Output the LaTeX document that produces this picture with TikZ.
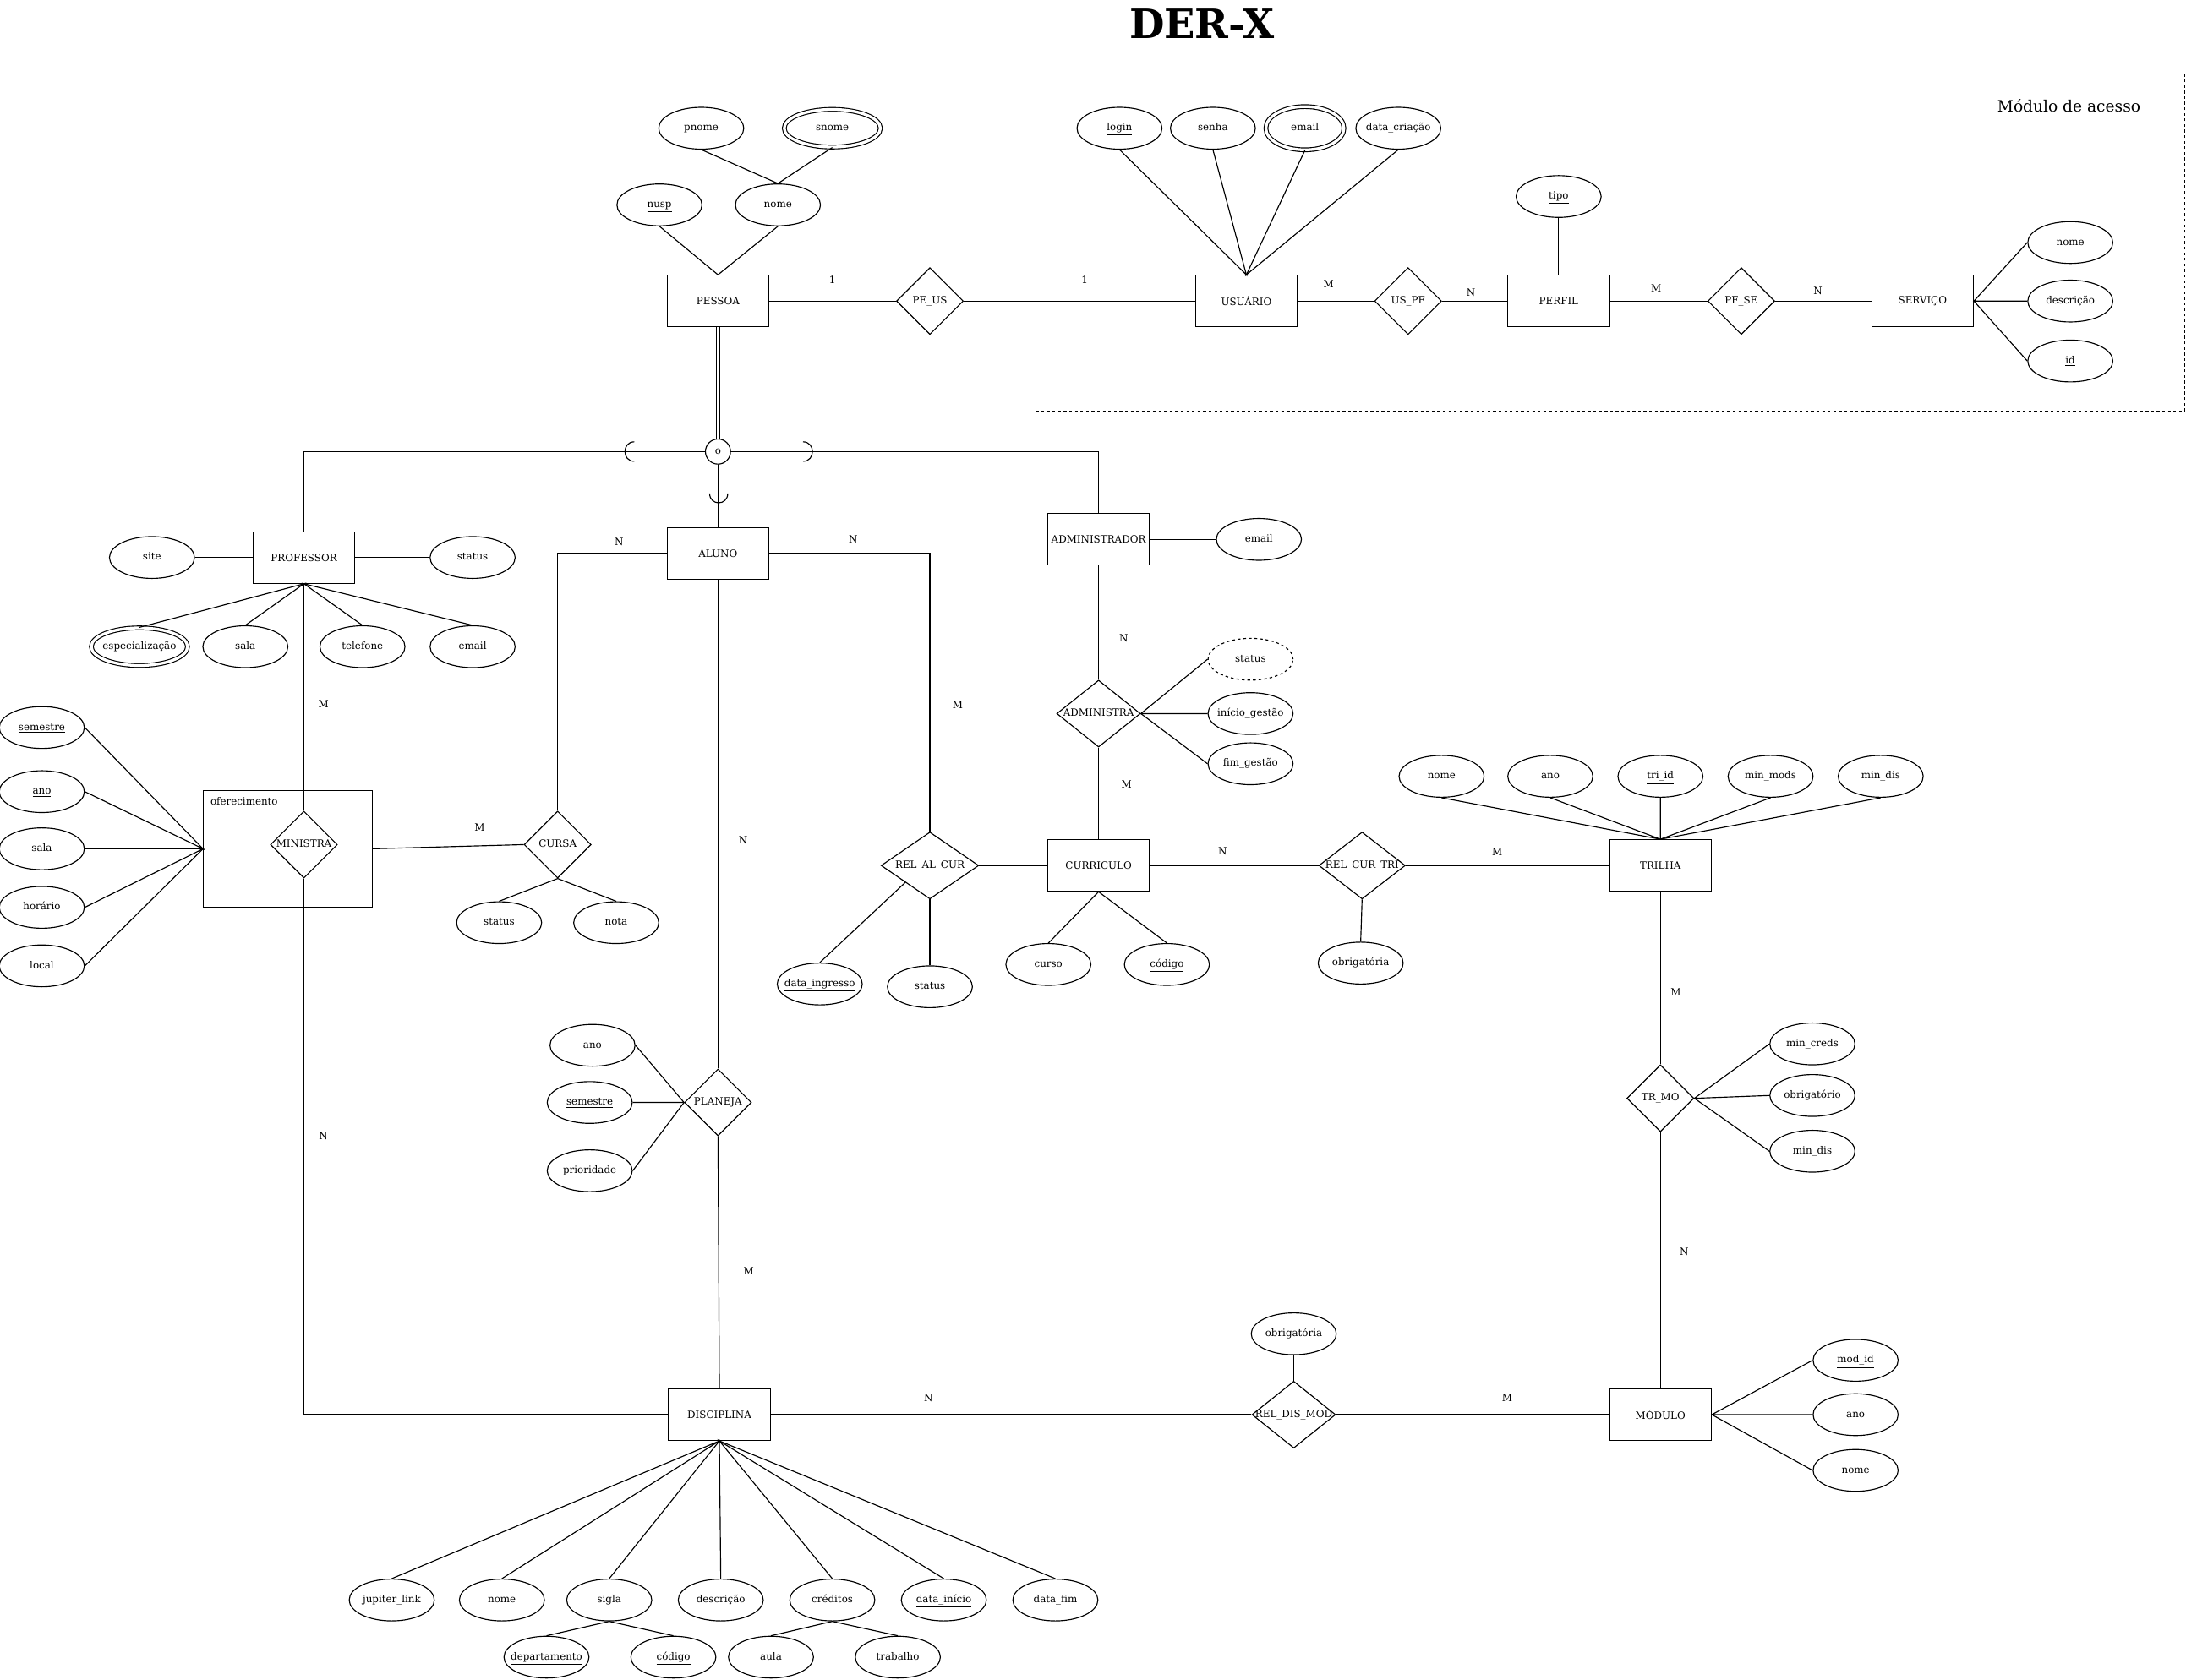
\documentclass[tikz,border=0pt]{standalone}
\usepackage{fontspec}
\setmainfont{DejaVu Serif}
\usetikzlibrary{shapes.geometric}
\tikzset{
  entidade/.style={draw, rectangle, minimum width=73, minimum height=37, inner sep=0},
  relac/.style={draw, diamond, minimum width=48, minimum height=48, inner sep=0, label=center:#1},
  atrib/.style={draw, ellipse, minimum width=61, minimum height=30, inner sep=0, label=center:#1},
  multi/.style={atrib=#1, double, double distance=2pt, minimum width=69, minimum height=27},
  derivado/.style={atrib=#1, dash pattern=on 2pt off 2pt},
  card/.style={inner sep=0},
  every label/.style={text height=5.4pt, text depth=1.6pt},
}
\begin{document}
\begin{tikzpicture}[x=1pt, y=-1pt, line width=0.7pt, font=\fontsize{7.2}{8.6}\selectfont]
\useasboundingbox (0,0) rectangle (1568,1205);

\node[font=\bfseries\fontsize{29}{29}\selectfont] (titulo) at (862,17) {DER-X};
\node[draw, dash pattern=on 2pt off 2pt, minimum width=824, minimum height=242, inner sep=0] (acesso) at (1155,174) {};
\node[font=\fontsize{11.3}{13}\selectfont] (acessotxt) at (1484,76) {Módulo de acesso};

% entidades
\node[entidade] (pessoa) at (515,216) {PESSOA};
\node[entidade] (usuario) at (894,216) {USUÁRIO};
\node[entidade] (perfil) at (1118,216) {PERFIL};
\node[entidade] (servico) at (1379,216) {SERVIÇO};
\node[entidade] (professor) at (218,400) {PROFESSOR};
\node[entidade] (aluno) at (515,397) {ALUNO};
\node[entidade] (administrador) at (788,387) {ADMINISTRADOR};
\node[entidade] (curriculo) at (788,621) {CURRICULO};
\node[entidade] (trilha) at (1191,621) {TRILHA};
\node[entidade] (disciplina) at (516,1015) {DISCIPLINA};
\node[entidade] (modulo) at (1191,1015) {MÓDULO};
\node[draw, minimum width=121, minimum height=84, inner sep=0,
      label={[anchor=north west, inner sep=5pt]north west:oferecimento}] (oferecimento) at (206.5,609) {};

% relacionamentos
\node[relac=PE\_US] (peus) at (667,216) {};
\node[relac=US\_PF] (uspf) at (1010,216) {};
\node[relac=PF\_SE] (pfse) at (1249,216) {};
\node[relac=MINISTRA] (ministra) at (218,606) {};
\node[relac=CURSA] (cursa) at (400,606) {};
\node[relac=ADMINISTRA, minimum width=60] (administra) at (788,512) {};
\node[relac=REL\_AL\_CUR, minimum width=70] (relalcur) at (667,621) {};
\node[relac=REL\_CUR\_TRI, minimum width=62] (relcurtri) at (977,621) {};
\node[relac=PLANEJA] (planeja) at (515,791) {};
\node[relac=TR\_MO] (trmo) at (1191,788) {};
\node[relac=REL\_DIS\_MOD, minimum width=60] (reldismod) at (928,1015) {};

% especializacao
\node[circle, draw, minimum size=18, inner sep=0] (uniao) at (515,324) {o};

% atributos
\node[atrib=\underline{nusp}] (pnusp) at (473,147) {};
\node[atrib=nome] (pnome) at (558,147) {};
\node[atrib=pnome] (ppnome) at (503,92) {};
\node[multi=snome] (psnome) at (597,92) {};
\node[atrib=\underline{login}] (ulogin) at (803,92) {};
\node[atrib=senha] (usenha) at (870,92) {};
\node[multi=email, minimum width=56, minimum height=31] (uemail) at (936,92) {};
\node[atrib=data\_criação] (udata) at (1003,92) {};
\node[atrib=\underline{tipo}] (ptipo) at (1118,141) {};
\node[atrib=nome] (snome) at (1485,174) {};
\node[atrib=descrição] (sdescricao) at (1485,216) {};
\node[atrib=\underline{id}] (sid) at (1485,259) {};
\node[atrib=site] (prsite) at (109,400) {};
\node[atrib=status] (prstatus) at (339,400) {};
\node[multi=especialização] (presp) at (100,464) {};
\node[atrib=sala] (prsala) at (176,464) {};
\node[atrib=telefone] (prtelefone) at (260,464) {};
\node[atrib=email] (premail) at (339,464) {};
\node[atrib=email] (ademail) at (903,387) {};
\node[derivado=status] (amstatus) at (897,473) {};
\node[atrib=início\_gestão] (aminicio) at (897,512) {};
\node[atrib=fim\_gestão] (amfim) at (897,548) {};
\node[atrib=\underline{semestre}] (osemestre) at (30,522) {};
\node[atrib=\underline{ano}] (oano) at (30,568) {};
\node[atrib=sala] (osala) at (30,609) {};
\node[atrib=horário] (ohorario) at (30,651) {};
\node[atrib=local] (olocal) at (30,693) {};
\node[atrib=status] (custatus) at (358,662) {};
\node[atrib=nota] (cunota) at (442,662) {};
\node[atrib=\underline{data\_ingresso}] (rdata) at (588,706) {};
\node[atrib=status] (rstatus) at (667,708) {};
\node[atrib=curso] (ccurso) at (752,692) {};
\node[atrib=\underline{código}] (ccodigo) at (837,692) {};
\node[atrib=obrigatória] (rcobrig) at (976,691) {};
\node[atrib=nome] (tnome) at (1034,557) {};
\node[atrib=ano] (tano) at (1112,557) {};
\node[atrib=\underline{tri\_id}] (tid) at (1191,557) {};
\node[atrib=min\_mods] (tmods) at (1270,557) {};
\node[atrib=min\_dis] (tdis) at (1349,557) {};
\node[atrib=min\_creds] (tmcreds) at (1300,749) {};
\node[atrib=obrigatório] (tmobrig) at (1300,786) {};
\node[atrib=min\_dis] (tmdis) at (1300,826) {};
\node[atrib=\underline{ano}] (plano) at (425,750) {};
\node[atrib=\underline{semestre}] (plsemestre) at (423,791) {};
\node[atrib=prioridade] (plprioridade) at (423,840) {};
\node[atrib=obrigatória] (rdobrig) at (928,957) {};
\node[atrib=\underline{mod\_id}] (mid) at (1331,976) {};
\node[atrib=ano] (mano) at (1331,1015) {};
\node[atrib=nome] (mnome) at (1331,1055) {};
\node[atrib=jupiter\_link] (djupiter) at (281,1148) {};
\node[atrib=nome] (dnome) at (360,1148) {};
\node[atrib=sigla] (dsigla) at (437,1148) {};
\node[atrib=descrição] (ddescricao) at (517,1148) {};
\node[atrib=créditos] (dcreditos) at (597,1148) {};
\node[atrib=\underline{data\_início}] (dinicio) at (677,1148) {};
\node[atrib=data\_fim] (dfim) at (757,1148) {};
\node[atrib=\underline{departamento}] (ddepto) at (392,1189) {};
\node[atrib=\underline{código}] (dcodigo) at (483,1189) {};
\node[atrib=aula] (daula) at (553,1189) {};
\node[atrib=trabalho] (dtrabalho) at (644,1189) {};

% cardinalidades
\node[card] (card1) at (597,201) {1};
\node[card] (card2) at (778,201) {1};
\node[card] (card3) at (953,204) {M};
\node[card] (card4) at (1055,210) {N};
\node[card] (card5) at (1188,207) {M};
\node[card] (card6) at (1304,209) {N};
\node[card] (card7) at (444,389) {N};
\node[card] (card8) at (612,387) {N};
\node[card] (card9) at (687,506) {M};
\node[card] (card10) at (533,603) {N};
\node[card] (card11) at (537,912) {M};
\node[card] (card12) at (232,505) {M};
\node[card] (card13) at (232,815) {N};
\node[card] (card14) at (344,594) {M};
\node[card] (card15) at (806,458) {N};
\node[card] (card16) at (808,563) {M};
\node[card] (card17) at (877,611) {N};
\node[card] (card18) at (1074,611) {M};
\node[card] (card19) at (1202,712) {M};
\node[card] (card20) at (1208,898) {N};
\node[card] (card21) at (666,1003) {N};
\node[card] (card22) at (1081,1003) {M};

% ligacoes
\draw (pessoa) -- (peus) -- (usuario) -- (uspf) -- (perfil) -- (pfse) -- (servico);
\draw[double, double distance=2pt, line width=0.6pt] (pessoa.south) -- (uniao.north);
\draw (uniao.west) -| (professor.north);
\draw (uniao.east) -| (administrador.north);
\draw (uniao.south) -- (aluno.north);
\draw (455,317) .. controls (446,317) and (446,331) .. (455,331);
\draw (576,317) .. controls (585,317) and (585,331) .. (576,331);
\draw (509,354) .. controls (509,363) and (522,363) .. (522,354);
\draw (aluno.west) -| (cursa.north);
\draw (aluno.east) -| (relalcur.north);
\draw (aluno.south) -- (planeja.north);
\draw (planeja.south) -- (disciplina.north);
\draw (professor.south) -- (ministra.north);
\draw (ministra.south) |- (disciplina.west);
\draw (oferecimento.east) -- (cursa.west);
\draw (relalcur.east) -- (curriculo.west);
\draw (administrador.south) -- (administra.north);
\draw (administra.south) -- (curriculo.north);
\draw (curriculo) -- (relcurtri) -- (trilha);
\draw (trilha.south) -- (trmo.north);
\draw (trmo.south) -- (modulo.north);
\draw (disciplina) -- (reldismod) -- (modulo);

% atributos - ligacoes
\draw (pnusp.south) -- (pessoa.north) -- (pnome.south);
\draw (ppnome.south) -- (pnome.north) -- (psnome.south);
\draw (ulogin.south) -- (usuario.north) -- (usenha.south);
\draw (uemail.south) -- (usuario.north) -- (udata.south);
\draw (ptipo.south) -- (perfil.north);
\draw (snome.west) -- (servico.east) -- (sdescricao.west);
\draw (sid.west) -- (servico.east);
\draw (prsite.east) -- (professor.west);
\draw (professor.east) -- (prstatus.west);
\draw (presp.north) -- (professor.south) -- (prsala.north);
\draw (prtelefone.north) -- (professor.south) -- (premail.north);
\draw (administrador.east) -- (ademail.west);
\draw (amstatus.west) -- (administra.east) -- (aminicio.west);
\draw (amfim.west) -- (administra.east);
\draw (osemestre.east) -- (oferecimento.west) -- (oano.east);
\draw (osala.east) -- (oferecimento.west) -- (ohorario.east);
\draw (olocal.east) -- (oferecimento.west);
\draw (custatus.north) -- (cursa.south) -- (cunota.north);
\draw (rdata.north) -- (relalcur.south west);
\draw (rstatus.north) -- (relalcur.south);
\draw (ccurso.north) -- (curriculo.south) -- (ccodigo.north);
\draw (relcurtri.south) -- (rcobrig.north);
\draw (tnome.south) -- (trilha.north) -- (tano.south);
\draw (tid.south) -- (trilha.north) -- (tmods.south);
\draw (tdis.south) -- (trilha.north);
\draw (tmcreds.west) -- (trmo.east) -- (tmobrig.west);
\draw (tmdis.west) -- (trmo.east);
\draw (plano.east) -- (planeja.west) -- (plsemestre.east);
\draw (plprioridade.east) -- (planeja.west);
\draw (rdobrig.south) -- (reldismod.north);
\draw (mid.west) -- (modulo.east) -- (mano.west);
\draw (mnome.west) -- (modulo.east);
\draw (djupiter.north) -- (disciplina.south) -- (dnome.north);
\draw (dsigla.north) -- (disciplina.south) -- (ddescricao.north);
\draw (dcreditos.north) -- (disciplina.south) -- (dinicio.north);
\draw (dfim.north) -- (disciplina.south);
\draw (ddepto.north) -- (dsigla.south) -- (dcodigo.north);
\draw (daula.north) -- (dcreditos.south) -- (dtrabalho.north);
\end{tikzpicture}
\end{document}
